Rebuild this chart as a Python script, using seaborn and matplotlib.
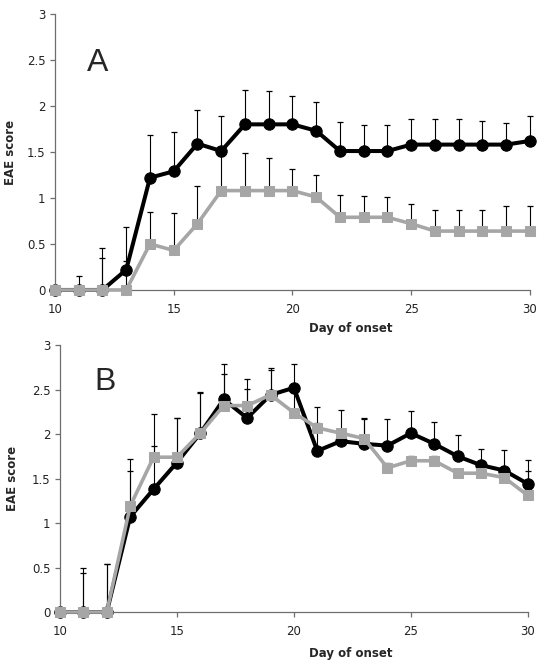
import numpy as np
import pandas as pd
import seaborn as sns
import matplotlib.pyplot as plt

# Data
days = list(range(10, 31))

# Panel A
a_black = [0, 0, 0, 0.22, 1.22, 1.29, 1.59, 1.51, 1.80, 1.80, 1.80, 1.73, 1.51, 1.51, 1.51, 1.58, 1.58, 1.58, 1.58, 1.58, 1.62]
a_black_err = [0, 0.15, 0.46, 0.46, 0.46, 0.43, 0.37, 0.38, 0.37, 0.36, 0.31, 0.31, 0.32, 0.28, 0.28, 0.28, 0.28, 0.28, 0.26, 0.23, 0.27]
a_gray = [0, 0, 0, 0, 0.50, 0.43, 0.72, 1.08, 1.08, 1.08, 1.08, 1.01, 0.79, 0.79, 0.79, 0.72, 0.64, 0.64, 0.64, 0.64, 0.64]
a_gray_err = [0, 0, 0.35, 0.31, 0.35, 0.41, 0.41, 0.38, 0.41, 0.35, 0.24, 0.24, 0.24, 0.23, 0.22, 0.21, 0.23, 0.23, 0.23, 0.27, 0.27]

# Panel B
b_black = [0, 0, 0, 1.07, 1.38, 1.68, 2.01, 2.39, 2.18, 2.44, 2.52, 1.81, 1.92, 1.89, 1.87, 2.01, 1.89, 1.75, 1.65, 1.59, 1.44]
b_black_err = [0, 0.49, 0.54, 0.52, 0.49, 0.50, 0.46, 0.40, 0.44, 0.30, 0.27, 0.49, 0.35, 0.29, 0.30, 0.25, 0.24, 0.24, 0.18, 0.23, 0.27]
b_gray = [0, 0, 0, 1.19, 1.74, 1.74, 2.01, 2.32, 2.32, 2.44, 2.24, 2.07, 2.01, 1.95, 1.62, 1.70, 1.70, 1.56, 1.56, 1.51, 1.31]
b_gray_err = [0, 0.44, 0.54, 0.53, 0.48, 0.44, 0.45, 0.35, 0.19, 0.28, 0.27, 0.05, 0.05, 0.22, 0.05, 0.05, 0.05, 0.05, 0.05, 0.05, 0.28]

gray = '#a6a6a6'
axis_col = '#6e6e6e'

sns.set_style("white")
plt.rcParams['font.family'] = ['DejaVu Sans']

fig = plt.figure(figsize=(5.51, 6.64), dpi=100)
ax_a = fig.add_axes([0.0998, 0.5633, 0.862, 0.4157])
ax_b = fig.add_axes([0.1089, 0.0783, 0.849, 0.402])


def draw_panel(ax, black, black_err, gr, gr_err, letter, letter_pos, xlab_pos, ylab_pos):
    df = pd.DataFrame({'day': days, 'black': black, 'gray': gr})
    # upper-only error bars, drawn underneath the lines
    ax.errorbar(days, black, yerr=[np.zeros(len(days)), black_err], fmt='none',
                ecolor='black', elinewidth=0.8, capsize=2.2, capthick=0.9, zorder=1, clip_on=False)
    ax.errorbar(days, gr, yerr=[np.zeros(len(days)), gr_err], fmt='none',
                ecolor='black', elinewidth=0.8, capsize=2.2, capthick=0.9, zorder=1, clip_on=False)
    sns.lineplot(data=df, x='day', y='black', ax=ax, color='black', lw=2.9,
                 marker='o', markersize=8.2, markeredgecolor='black', zorder=2, clip_on=False)
    sns.lineplot(data=df, x='day', y='gray', ax=ax, color=gray, lw=2.6,
                 marker='s', markersize=7, markeredgecolor=gray, zorder=3, clip_on=False)

    ax.set_xlim(10, 30)
    ax.set_ylim(0, 3)
    ax.set_xticks([10, 15, 20, 25, 30])
    ax.set_yticks([0, 0.5, 1, 1.5, 2, 2.5, 3])
    ax.set_yticklabels(['0', '0.5', '1', '1.5', '2', '2.5', '3'])
    sns.despine(ax=ax)
    for side in ['left', 'bottom']:
        ax.spines[side].set_color(axis_col)
        ax.spines[side].set_linewidth(0.9)
    ax.tick_params(axis='both', direction='out', length=3.5, width=0.9, color=axis_col,
                   labelsize=8.5, labelcolor='#222222', left=True, bottom=True)
    ax.tick_params(axis='x', pad=6)

    ax.set_xlabel('Day of onset', fontsize=8.5, fontweight='bold')
    ax.set_ylabel('EAE score', fontsize=8.5, fontweight='bold')
    ax.xaxis.set_label_coords(*xlab_pos)
    ax.yaxis.set_label_coords(*ylab_pos)
    ax.text(letter_pos[0], letter_pos[1], letter, transform=ax.transAxes, fontsize=23,
            family='Liberation Sans', ha='center', va='center')


draw_panel(ax_a, a_black, a_black_err, a_gray, a_gray_err, 'A', (0.0905, 0.822), (0.623, -0.116), (-0.08, 0.5))
draw_panel(ax_b, b_black, b_black_err, b_gray, b_gray_err, 'B', (0.096, 0.862), (0.622, -0.131), (-0.0876, 0.5))

fig.savefig('out.png', dpi=100)
